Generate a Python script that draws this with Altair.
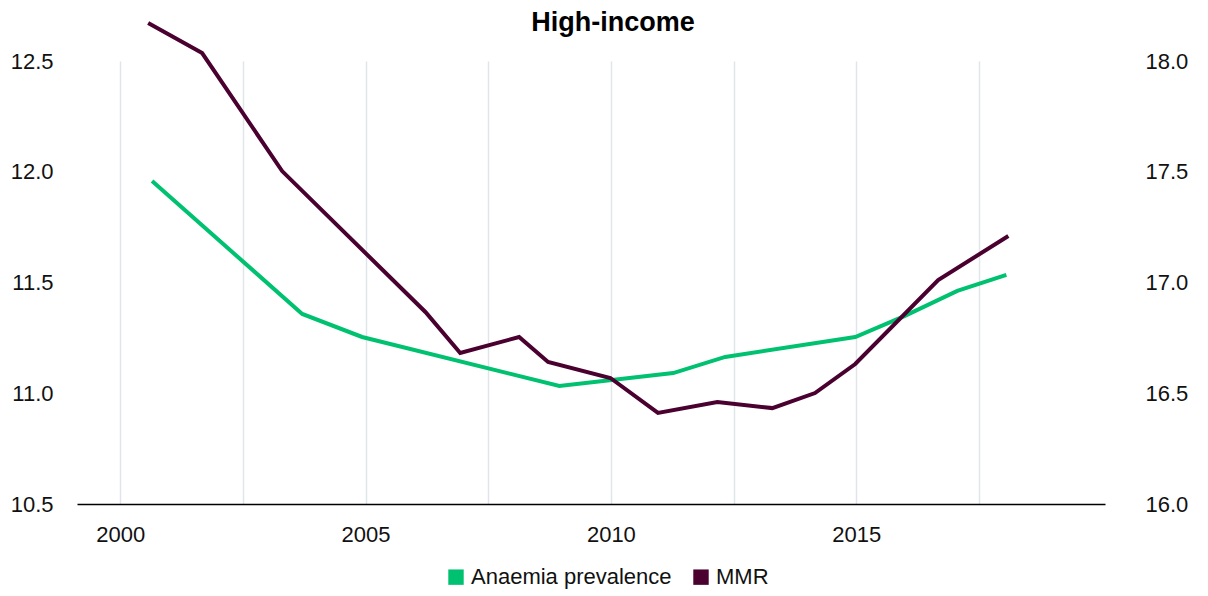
import altair as alt
import pandas as pd

# Anaemia prevalence (left axis) – vertices
anaemia_year = [2000.65, 2003.71, 2004.93, 2008.95, 2011.27, 2012.33, 2014.98, 2015.98, 2017.06, 2018.06]
anaemia_val = [11.958, 11.358, 11.254, 11.033, 11.091, 11.164, 11.254, 11.348, 11.462, 11.534]

# MMR (right axis)
mmr_year = [2000.57, 2001.67, 2003.30, 2006.22, 2006.93, 2008.13, 2008.72, 2009.99,
            2010.96, 2012.17, 2013.29, 2014.16, 2014.98, 2016.67, 2018.10]
mmr_val = [18.172, 18.036, 17.503, 16.867, 16.682, 16.754, 16.641, 16.569,
           16.411, 16.460, 16.433, 16.501, 16.632, 17.011, 17.210]

series_names = ["Anaemia prevalence", "MMR"]
series_colors = ["#00c16f", "#4a0130"]
x_ticks = [2000, 2002.5, 2005, 2007.5, 2010, 2012.5, 2015, 2017.5]
left_ticks = [10.5, 11.0, 11.5, 12.0, 12.5]
right_ticks = [16.0, 16.5, 17.0, 17.5, 18.0]

df_a = pd.DataFrame({"year": anaemia_year, "value": anaemia_val, "series": series_names[0]})
df_m = pd.DataFrame({"year": mmr_year, "value": mmr_val, "series": series_names[1]})

FONT = "Liberation Sans"

legend = alt.Legend(
    title=None, orient="none", direction="horizontal",
    legendX=368, legendY=505,
    symbolType="square", symbolSize=2, symbolStrokeWidth=14, symbolOpacity=1,
    labelFontSize=22, labelFont=FONT, labelColor="#111111", labelLimit=400,
    columnPadding=0, labelOffset=4, padding=0,
)
color_enc = alt.Color(
    "series:N",
    scale=alt.Scale(domain=series_names, range=series_colors),
    legend=legend,
)

x_enc = alt.X(
    "year:Q",
    scale=alt.Scale(domain=[1999.12, 2020.07], nice=False, zero=False),
    axis=alt.Axis(
        title=None, values=x_ticks, format="d",
        labelExpr="datum.value % 5 === 0 ? datum.label : ''",
        grid=True, gridColor="#dfe5e9", gridWidth=1.5,
        ticks=False, domain=True, domainColor="#000000", domainWidth=1.5,
        labelFontSize=22, labelFont=FONT, labelColor="#111111", labelPadding=20,
    ),
)

left = alt.Chart(df_a).mark_line(strokeWidth=4, clip=False).encode(
    x=x_enc,
    y=alt.Y(
        "value:Q",
        scale=alt.Scale(domain=[10.5, 12.5], nice=False, zero=False),
        axis=alt.Axis(
            title=None, values=left_ticks, format=".1f", orient="left",
            grid=False, ticks=False, domain=False,
            labelFontSize=22, labelFont=FONT, labelColor="#111111", labelPadding=24,
        ),
    ),
    color=color_enc,
)

right = alt.Chart(df_m).mark_line(strokeWidth=4, clip=False).encode(
    x=x_enc,
    y=alt.Y(
        "value:Q",
        scale=alt.Scale(domain=[16.0, 18.0], nice=False, zero=False),
        axis=alt.Axis(
            title=None, values=right_ticks, format=".1f", orient="right",
            grid=False, ticks=False, domain=False,
            labelFontSize=22, labelFont=FONT, labelColor="#111111", labelPadding=40,
        ),
    ),
    color=color_enc,
)

chart = (
    alt.layer(left, right)
    .resolve_scale(y="independent")
    .properties(
        width=1028,
        height=443,
        title=alt.TitleParams(
            "High-income", fontSize=27, fontWeight="bold", font=FONT,
            anchor="middle", dx=22, offset=-22, color="#000000",
        ),
        padding={"left": 69, "top": 53, "right": 95, "bottom": 86},
        autosize=alt.AutoSizeParams(type="none"),
    )
    .configure(background="#ffffff")
    .configure_view(stroke=None)
)

chart.save("out.html", embed_options={"renderer": "svg", "actions": False})
